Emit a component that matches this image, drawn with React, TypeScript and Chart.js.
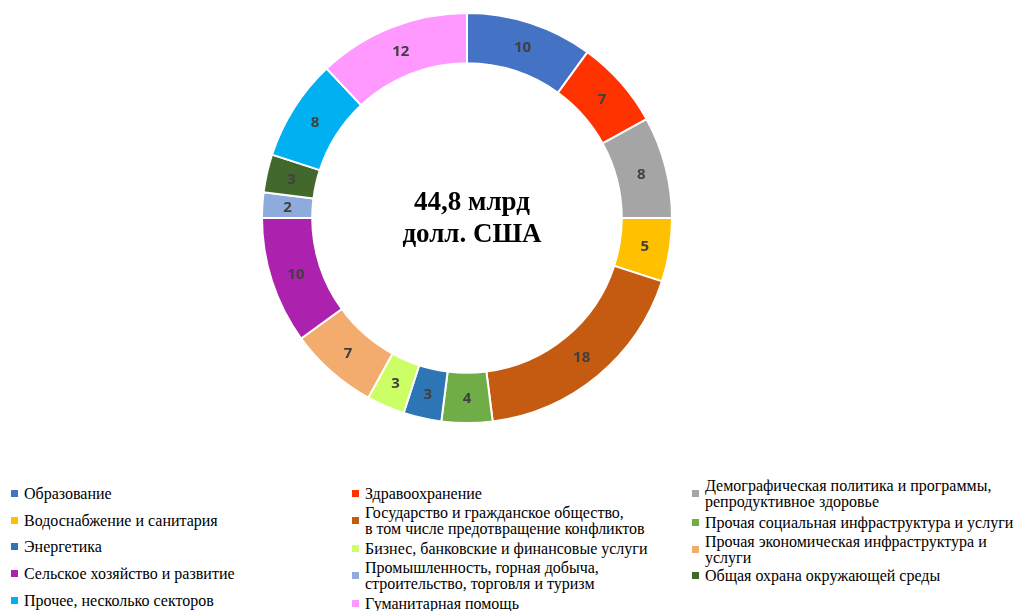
import React, { useEffect, useRef } from "react";
import { Chart, registerables } from "chart.js";

Chart.register(...registerables);

const categories: string[] = [
  "Образование",
  "Здравоохранение",
  "Демографическая политика и программы,\nрепродуктивное здоровье",
  "Водоснабжение и санитария",
  "Государство и гражданское общество,\nв том числе предотвращение конфликтов",
  "Прочая социальная инфраструктура и услуги",
  "Энергетика",
  "Бизнес, банковские и финансовые услуги",
  "Прочая экономическая инфраструктура и\nуслуги",
  "Сельское хозяйство и развитие",
  "Промышленность, горная добыча,\nстроительство, торговля и туризм",
  "Общая охрана окружающей среды",
  "Прочее, несколько секторов",
  "Гуманитарная помощь",
];

const values: number[] = [10, 7, 8, 5, 18, 4, 3, 3, 7, 10, 2, 3, 8, 12];

const colors: string[] = [
  "#4472C4",
  "#FF3300",
  "#A5A5A5",
  "#FFC000",
  "#C55A11",
  "#70AD47",
  "#2E75B6",
  "#CCFF66",
  "#F4AC6E",
  "#AC22AE",
  "#8FAADC",
  "#43682B",
  "#00B0F0",
  "#FF99FF",
];

const centerLines: string[] = ["44,8 млрд", "долл. США"];

const labelPlugin = {
  id: "labelsAndCenter",
  afterDatasetsDraw(chart: any) {
    const ctx = chart.ctx;
    const meta = chart.getDatasetMeta(0);
    ctx.save();
    ctx.font = "bold 15px 'Open Sans', sans-serif";
    ctx.fillStyle = "#404040";
    ctx.textAlign = "center";
    ctx.textBaseline = "middle";
    meta.data.forEach((arc: any, i: number) => {
      const p = arc.getCenterPoint();
      ctx.fillText(String(chart.data.datasets[0].data[i]), p.x, p.y + 1);
    });
    const { left, right, top, bottom } = chart.chartArea;
    const cx = (left + right) / 2;
    const cy = (top + bottom) / 2;
    ctx.font = "bold 27px 'Liberation Serif', 'Times New Roman', serif";
    ctx.fillStyle = "#000000";
    ctx.textBaseline = "alphabetic";
    ctx.fillText(centerLines[0], cx + 5, cy - 8);
    ctx.fillText(centerLines[1], cx + 5, cy + 24);
    ctx.restore();
  },
};

const legendCols = [
  { marker: 11, text: 24, rows: [494, 521, 547, 574, 601] },
  { marker: 352, text: 365, rows: [494, 521, 549, 576, 604] },
  { marker: 692, text: 705, rows: [494, 523, 550, 576] },
];

function Legend() {
  return (
    <>
      {categories.map((c, i) => {
        const col = legendCols[i % 3];
        const row = Math.floor(i / 3);
        const cy = col.rows[row];
        return (
          <div
            key={i}
            style={{
              position: "absolute",
              left: col.marker,
              top: cy - 20,
              height: 40,
              display: "flex",
              alignItems: "center",
              whiteSpace: "pre",
            }}
          >
            <div
              style={{
                width: 7,
                height: 7,
                background: colors[i],
                marginRight: col.text - col.marker - 7,
                marginTop: -2,
                flex: "none",
              }}
            />
            <div
              style={{
                fontFamily: "'Liberation Serif', 'Times New Roman', serif",
                fontSize: 16,
                lineHeight: "16px",
                color: "#000",
              }}
            >
              {c}
            </div>
          </div>
        );
      })}
    </>
  );
}

export default function App() {
  const ref = useRef<HTMLCanvasElement | null>(null);
  useEffect(() => {
    if (!ref.current) return;
    const chart = new Chart(ref.current, {
      type: "doughnut",
      data: {
        labels: categories,
        datasets: [
          {
            data: values,
            backgroundColor: colors,
            borderColor: "#FFFFFF",
            borderWidth: 2,
          },
        ],
      },
      options: {
        animation: false,
        responsive: false,
        maintainAspectRatio: false,
        cutout: "75.5%",
        plugins: {
          legend: { display: false },
          tooltip: { enabled: false },
        },
        layout: { padding: 0 },
      },
      plugins: [labelPlugin],
    });
    return () => chart.destroy();
  }, []);

  return (
    <div
      style={{
        position: "fixed",
        left: 0,
        top: 0,
        width: 1015,
        height: 611,
        background: "#fff",
        overflow: "hidden",
      }}
    >
      <canvas
        ref={ref}
        width={412}
        height={412}
        style={{ position: "absolute", left: 261, top: 12, width: 412, height: 412 }}
      />
      <Legend />
    </div>
  );
}
